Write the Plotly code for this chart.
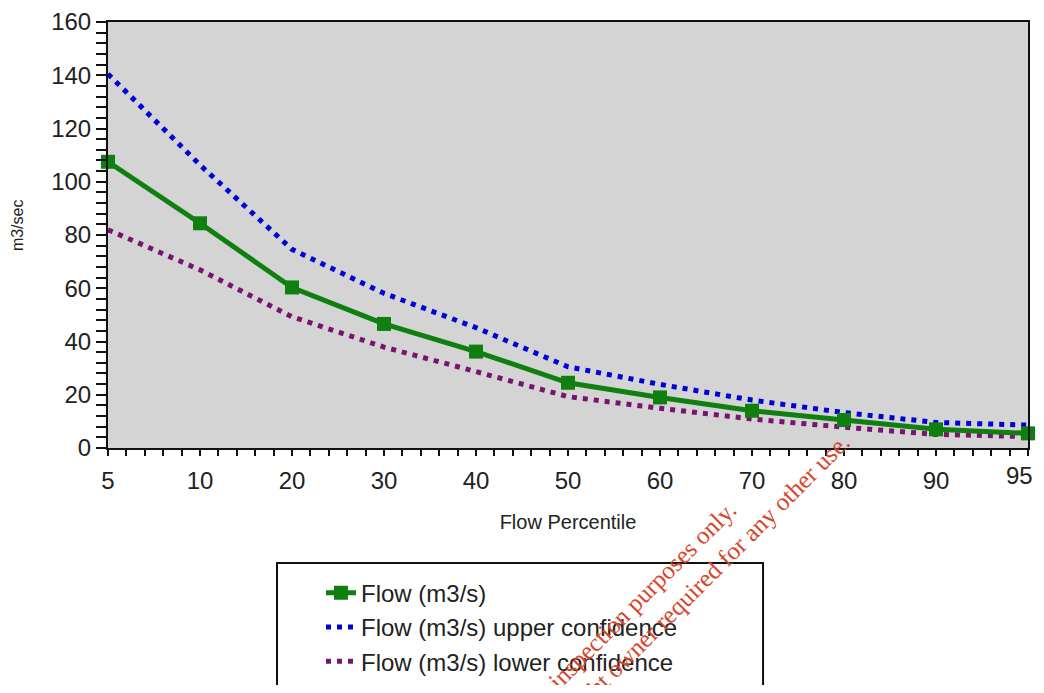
import plotly.graph_objects as go

percentile_labels = ["5", "10", "20", "30", "40", "50", "60", "70", "80", "90", "95"]
flow = [107.5, 84.4, 60.3, 46.6, 36.2, 24.5, 19.0, 14.0, 10.5, 7.0, 5.5]
upper = [140.5, 106.3, 74.6, 58.1, 45.2, 30.5, 23.9, 18.0, 13.3, 9.6, 8.6]
lower = [82.0, 66.9, 49.3, 37.9, 28.7, 19.3, 14.9, 10.9, 7.8, 5.1, 4.3]

series_names = ["Flow (m3/s)", "Flow (m3/s) upper confidence", "Flow (m3/s) lower confidence"]
y_ticks = [0, 20, 40, 60, 80, 100, 120, 140, 160]
watermark_lines = ["For inspection purposes only.",
                   "Consent of copyright owner required for any other use."]

xpos = list(range(len(percentile_labels)))
FONT = "Arial, Liberation Sans, sans-serif"
SERIF = "Liberation Serif, Times New Roman, serif"

# last category label is drawn as a right-aligned annotation so it stays inside the page
tick_text = percentile_labels[:-1] + [""]

fig = go.Figure()
fig.add_trace(go.Scatter(
    x=xpos, y=upper, name=series_names[1], mode="lines",
    line=dict(color="#0000d8", width=5, dash="5px,6px"),
    cliponaxis=False, legendrank=2))
fig.add_trace(go.Scatter(
    x=xpos, y=lower, name=series_names[2], mode="lines",
    line=dict(color="#7a1272", width=5, dash="5px,6px"),
    cliponaxis=False, legendrank=3))
fig.add_trace(go.Scatter(
    x=xpos, y=flow, name=series_names[0], mode="lines+markers",
    line=dict(color="#0f7f0f", width=5),
    marker=dict(symbol="square", size=14, color="#0f7f0f"),
    cliponaxis=False, legendrank=1))

fig.update_xaxes(
    range=[0, len(percentile_labels) - 1], automargin=False,
    tickmode="array", tickvals=xpos, ticktext=tick_text,
    ticks="outside", ticklen=6, tickwidth=2, tickcolor="#111",
    ticklabelstandoff=4, ticklabeloverflow="allow",
    minor=dict(dtick=0.2, ticks="outside", ticklen=6, tickwidth=2, tickcolor="#111"),
    showline=True, linecolor="#111", linewidth=2, mirror=True,
    showgrid=False, zeroline=False,
    tickfont=dict(family=FONT, size=24, color="#222"),
    title=dict(text="Flow Percentile", font=dict(family=FONT, size=20, color="#222"), standoff=22),
)
fig.update_yaxes(
    range=[0, 160], automargin=False,
    tickmode="array", tickvals=y_ticks,
    ticks="outside", ticklen=10, tickwidth=2, tickcolor="#111",
    ticklabeloverflow="allow",
    minor=dict(dtick=4, ticks="outside", ticklen=10, tickwidth=2, tickcolor="#111"),
    showline=True, linecolor="#111", linewidth=2, mirror=True,
    showgrid=False, zeroline=False,
    tickfont=dict(family=FONT, size=24, color="#222"),
)

fig.update_layout(
    width=1036, height=677,
    margin=dict(l=100, r=16, t=14, b=237, autoexpand=False),
    paper_bgcolor="white", plot_bgcolor="#d4d4d4",
    showlegend=True,
    legend=dict(
        x=0.2315, y=-0.288, xanchor="left", yanchor="top",
        bgcolor="rgba(0,0,0,0)", borderwidth=0,
        font=dict(family=FONT, size=24, color="#222"),
        tracegroupgap=0,
    ),
    shapes=[dict(
        type="rect", xref="paper", yref="paper",
        x0=0.1837, x1=0.712, y0=-0.66, y1=-0.270,
        line=dict(color="#111", width=2), fillcolor="rgba(0,0,0,0)", layer="below",
    )],
    annotations=[
        dict(
            xref="x", yref="paper", x=xpos[-1], y=0,
            xanchor="right", yanchor="top", xshift=7, yshift=-12,
            showarrow=False, text=percentile_labels[-1],
            font=dict(family=FONT, size=24, color="#222"),
        ),
        dict(
            xref="paper", yref="paper", x=-0.099, y=0.523,
            xanchor="center", yanchor="middle", showarrow=False,
            textangle=-90, text="m3/sec",
            font=dict(family=FONT, size=16, color="#222"),
        ),
        dict(
            xref="paper", yref="paper", x=0.578, y=-0.406,
            xanchor="center", yanchor="middle", showarrow=False,
            textangle=-45, align="center",
            text="<br>".join(watermark_lines),
            font=dict(family=SERIF, size=25, color="#d8452a"),
        ),
    ],
)

fig.write_html("out.html")
